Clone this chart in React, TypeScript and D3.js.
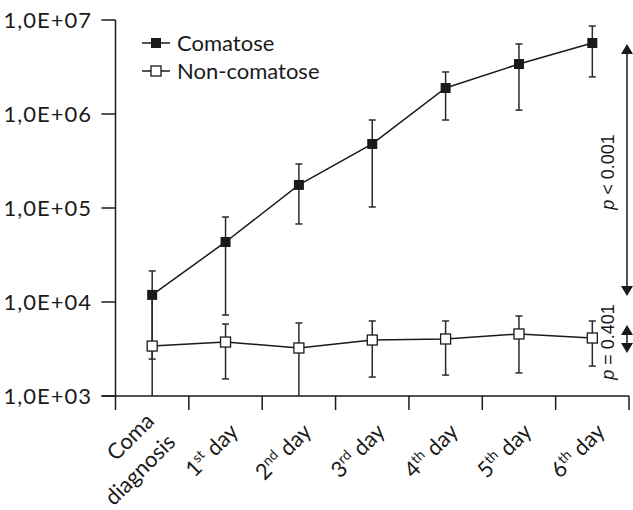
import React from "react";
import * as d3 from "d3";

const categories = ["Coma diagnosis", "1st day", "2nd day", "3rd day", "4th day", "5th day", "6th day"];
const seriesNames = ["Comatose", "Non-comatose"];
const comatoseMean = [11900, 43500, 176000, 480000, 1890000, 3400000, 5690000];
const comatoseUpper = [21400, 80200, 294000, 863000, 2800000, 5560000, 8630000];
const comatoseLower = [600, 7270, 67600, 102500, 863000, 1100000, 2480000];
const nonComatoseMean = [3400, 3750, 3240, 3940, 4040, 4570, 4140];
const nonComatoseUpper = [11900, 5830, 5980, 6280, 6280, 7100, 6280];
const nonComatoseLower = [2470, 1520, 800, 1590, 1670, 1760, 2080];
const yTicks = [1e3, 1e4, 1e5, 1e6, 1e7];
const yTickLabels = ["1,0E+03", "1,0E+04", "1,0E+05", "1,0E+06", "1,0E+07"];
const pLabels = ["< 0.001", "= 0.401"];

const W = 633;
const H = 510;
const FONT = "Lato, 'Open Sans', sans-serif";
const PFONT = "'Liberation Sans', Arial, sans-serif";
const INK = "#1a1a1a";
const FS = 22;

export default function App() {
  const x = d3.scaleBand<string>().domain(categories).range([115.5, 629]).padding(0);
  const y = d3.scaleLog().domain([1e3, 1e7]).range([396, 20]);
  const yc = y.copy().clamp(true);
  const cx = (c: string) => (x(c) as number) + x.bandwidth() / 2;
  const x0 = 115.5;
  const yBase = y(1e3);
  const capW = 3.5;
  const mk = 10;

  const line = d3
    .line<number>()
    .x((_, i) => cx(categories[i]))
    .y((d) => y(d));

  const errorBars = (upper: number[], lower: number[], key: string) =>
    categories.map((c, i) => {
      const px = cx(c);
      const yu = yc(upper[i]);
      const yl = yc(lower[i]);
      return (
        <g key={key + i} stroke="#2a2a2a" strokeWidth={1.5}>
          <line x1={px} x2={px} y1={yu} y2={yl} />
          {upper[i] <= 1e7 && <line x1={px - capW} x2={px + capW} y1={yu} y2={yu} />}
          {lower[i] >= 1e3 && <line x1={px - capW} x2={px + capW} y1={yl} y2={yl} />}
        </g>
      );
    });

  const catLabel = (c: string) => {
    const ax = cx(c) + 14;
    const ay = 433;
    const m = c.match(/^(\d)(st|nd|rd|th) (day)$/);
    const inner = m ? (
      <text x={0} y={0} textAnchor="end" fontSize={FS} fill={INK} fontFamily={FONT}>
        {m[1]}
        <tspan fontSize={14} dy={-8}>{m[2]}</tspan>
        <tspan dy={8}>{" " + m[3]}</tspan>
      </text>
    ) : (
      c.split(" ").map((p, j) => (
        <text key={p} x={0} y={-15 + j * 30} textAnchor="end" fontSize={FS} fill={INK} fontFamily={FONT}>
          {p}
        </text>
      ))
    );
    return (
      <g key={c} transform={`translate(${ax.toFixed(2)} ${ay})`}>
        <g transform="rotate(-45)">{inner}</g>
      </g>
    );
  };

  const arrowX = 627;
  const tri = (tipY: number, dir: number) =>
    `M${arrowX},${tipY} L${arrowX - 6},${tipY + dir * 10} L${arrowX + 6},${tipY + dir * 10} Z`;

  return (
    <svg width={W} height={H} style={{ position: "absolute", left: 0, top: 0, background: "#fff" }}>
      <rect width={W} height={H} fill="#fff" />
      <g stroke={INK} strokeWidth={1.5} fill="none">
        <line x1={x0} x2={x0} y1={y(1e7)} y2={yBase + 14} />
        <line x1={x0 - 14} x2={629} y1={yBase} y2={yBase} />
        {yTicks.map((t) => (
          <line key={t} x1={x0 - 14} x2={x0} y1={y(t)} y2={y(t)} />
        ))}
        {categories.map((c) => (
          <line key={c} x1={(x(c) as number) + x.bandwidth()} x2={(x(c) as number) + x.bandwidth()} y1={yBase} y2={yBase + 14} />
        ))}
      </g>
      {yTicks.map((t, i) => (
        <text key={t} x={92} y={y(t)} dy="0.35em" textAnchor="end" fontSize={FS} letterSpacing={1} fill={INK} fontFamily={FONT}>
          {yTickLabels[i]}
        </text>
      ))}
      {categories.map(catLabel)}

      {errorBars(nonComatoseUpper, nonComatoseLower, "n")}
      {errorBars(comatoseUpper, comatoseLower, "c")}

      <path d={line(nonComatoseMean) || ""} fill="none" stroke={INK} strokeWidth={1.5} />
      <path d={line(comatoseMean) || ""} fill="none" stroke={INK} strokeWidth={1.5} />

      {nonComatoseMean.map((v, i) => (
        <rect key={"nm" + i} x={cx(categories[i]) - mk / 2} y={y(v) - mk / 2} width={mk} height={mk} fill="#fff" stroke={INK} strokeWidth={1.3} />
      ))}
      {comatoseMean.map((v, i) => (
        <rect key={"cm" + i} x={cx(categories[i]) - mk / 2} y={y(v) - mk / 2} width={mk} height={mk} fill={INK} />
      ))}

      <g>
        <line x1={142} x2={170} y1={43} y2={43} stroke={INK} strokeWidth={1.5} />
        <rect x={156 - mk / 2} y={43 - mk / 2} width={mk} height={mk} fill={INK} />
        <text x={177} y={43} dy="0.35em" fontSize={FS} fill={INK} fontFamily={FONT}>{seriesNames[0]}</text>
        <line x1={142} x2={170} y1={71} y2={71} stroke={INK} strokeWidth={1.5} />
        <rect x={156 - mk / 2} y={71 - mk / 2} width={mk} height={mk} fill="#fff" stroke={INK} strokeWidth={1.3} />
        <text x={177} y={71} dy="0.35em" fontSize={FS} fill={INK} fontFamily={FONT}>{seriesNames[1]}</text>
      </g>

      <g fill={INK} stroke="none">
        <line x1={arrowX} x2={arrowX} y1={52} y2={288} stroke={INK} strokeWidth={1.5} />
        <path d={tri(44, 1)} />
        <path d={tri(296, -1)} />
        <line x1={arrowX} x2={arrowX} y1={333} y2={345} stroke={INK} strokeWidth={1.5} />
        <path d={tri(325, 1)} />
        <path d={tri(353, -1)} />
      </g>
      <g transform="translate(614 172)">
        <text transform="rotate(-90)" textAnchor="middle" fontSize={18} fill={INK} fontFamily={PFONT}>
          <tspan fontStyle="italic">p</tspan>
          {" " + pLabels[0]}
        </text>
      </g>
      <g transform="translate(614 342)">
        <text transform="rotate(-90)" textAnchor="middle" fontSize={18} fill={INK} fontFamily={PFONT}>
          <tspan fontStyle="italic">p</tspan>
          {" " + pLabels[1]}
        </text>
      </g>
    </svg>
  );
}
